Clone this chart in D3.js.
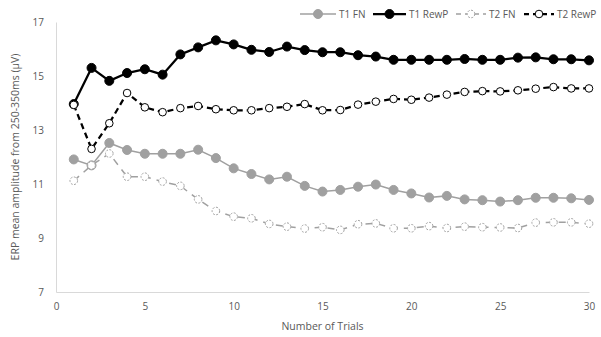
<!DOCTYPE html>
<html>
<head>
<meta charset="utf-8">
<script src="https://cdn.jsdelivr.net/npm/d3@7"></script>
<style>
  body { margin: 0; background: #fff; }
  text { font-family: "Open Sans", sans-serif; fill: #595959; }
</style>
</head>
<body>
<div id="chart"></div>
<script>
var trials = d3.range(1, 31);

var t1FN = [11.91, 11.69, 12.52, 12.26, 12.12, 12.12, 12.12, 12.27, 11.96, 11.58,
            11.37, 11.17, 11.27, 10.93, 10.72, 10.78, 10.90, 10.98, 10.78, 10.65,
            10.50, 10.56, 10.43, 10.40, 10.35, 10.40, 10.49, 10.49, 10.47, 10.41];
var t1RewP = [13.96, 15.30, 14.82, 15.11, 15.25, 15.05, 15.80, 16.06, 16.32, 16.17,
              15.97, 15.89, 16.09, 15.96, 15.88, 15.88, 15.77, 15.72, 15.60, 15.60,
              15.60, 15.60, 15.63, 15.60, 15.60, 15.68, 15.69, 15.62, 15.62, 15.58];
var t2FN = [11.12, 11.69, 12.13, 11.27, 11.27, 11.09, 10.93, 10.43, 10.00, 9.79,
            9.73, 9.52, 9.42, 9.35, 9.40, 9.30, 9.51, 9.54, 9.36, 9.36,
            9.44, 9.37, 9.42, 9.40, 9.39, 9.37, 9.57, 9.58, 9.58, 9.53];
var t2RewP = [13.93, 12.30, 13.25, 14.37, 13.84, 13.66, 13.81, 13.89, 13.77, 13.73,
              13.73, 13.81, 13.86, 13.96, 13.73, 13.74, 13.94, 14.05, 14.15, 14.12,
              14.20, 14.31, 14.41, 14.44, 14.43, 14.47, 14.53, 14.59, 14.54, 14.54];

var xTicks = [0, 5, 10, 15, 20, 25, 30];
var yTicks = [7, 9, 11, 13, 15, 17];

var series = [
  { name: "T1 FN", values: t1FN, color: "#a0a0a0", width: 1.5, dash: null, fill: "#a0a0a0", r: 4.5, mDash: null, legX: 300 },
  { name: "T1 RewP", values: t1RewP, color: "#000", width: 2.25, dash: null, fill: "#000", r: 4.5, mDash: null, legX: 373 },
  { name: "T2 FN", values: t2FN, color: "#a0a0a0", width: 1.5, dash: "7,6", fill: "#fff", r: 3.8, mDash: "2,1.5", legX: 456 },
  { name: "T2 RewP", values: t2RewP, color: "#000", width: 2.25, dash: "6,4", fill: "#fff", r: 3.8, mDash: null, legX: 524 }
];

var W = 601, H = 337;
var margin = { top: 22, right: 11, bottom: 45, left: 56 };
var width = W - margin.left - margin.right,
    height = H - margin.top - margin.bottom;

var svg = d3.select("#chart")
    .append("svg")
    .attr("width", W)
    .attr("height", H);

var g = svg.append("g")
    .attr("transform", "translate(" + margin.left + "," + margin.top + ")");

var x = d3.scaleLinear().domain([0, 30]).range([0, 533]);
var y = d3.scaleLinear().domain([7, 17]).range([height, 0]);

// axes
var xAxis = g.append("g")
    .attr("transform", "translate(0," + height + ")")
    .call(d3.axisBottom(x).tickValues(xTicks).tickSize(0).tickPadding(11));
xAxis.select(".domain").attr("stroke", "#d9d9d9");
xAxis.selectAll("text").style("font-size", "10px").attr("fill", "#595959");

var yAxis = g.append("g")
    .call(d3.axisLeft(y).tickValues(yTicks).tickSize(0).tickPadding(12));
yAxis.select(".domain").attr("stroke", "#d9d9d9");
yAxis.selectAll("text").style("font-size", "10px").attr("fill", "#595959");

// axis titles
svg.append("text")
    .attr("x", margin.left + x(15))
    .attr("y", 330)
    .attr("text-anchor", "middle")
    .style("font-size", "10.5px")
    .text("Number of Trials");

svg.append("text")
    .attr("transform", "translate(19," + (margin.top + height / 2) + ") rotate(-90)")
    .attr("text-anchor", "middle")
    .style("font-size", "10.5px")
    .text("ERP mean amplitude from 250-350ms (\u03bcV)");

var line = d3.line()
    .x(function (d, i) { return x(trials[i]); })
    .y(function (d) { return y(d); });

series.forEach(function (s) {
  g.append("path")
      .datum(s.values)
      .attr("fill", "none")
      .attr("stroke", s.color)
      .attr("stroke-width", s.width)
      .attr("stroke-dasharray", s.dash)
      .attr("d", line);

  g.selectAll(null)
      .data(s.values)
      .enter()
      .append("circle")
      .attr("cx", function (d, i) { return x(trials[i]); })
      .attr("cy", function (d) { return y(d); })
      .attr("r", s.r)
      .attr("fill", s.fill)
      .attr("stroke", s.color)
      .attr("stroke-width", 1)
      .attr("stroke-dasharray", s.mDash);
});

// legend
var legend = svg.append("g").attr("transform", "translate(0,14)");
var legW = [36, 33, 30, 30];
series.forEach(function (s, i) {
  var item = legend.append("g").attr("transform", "translate(" + s.legX + ",0)");
  item.append("line")
      .attr("x1", 0).attr("x2", legW[i])
      .attr("stroke", s.color)
      .attr("stroke-width", s.width)
      .attr("stroke-dasharray", s.dash ? "5,4" : null);
  item.append("circle")
      .attr("cx", legW[i] / 2)
      .attr("r", s.r)
      .attr("fill", s.fill)
      .attr("stroke", s.color)
      .attr("stroke-width", 1)
      .attr("stroke-dasharray", s.mDash);
  item.append("text")
      .attr("x", legW[i] + 3)
      .attr("dy", "0.35em")
      .style("font-size", "10px")
      .text(s.name);
});
</script>
</body>
</html>
